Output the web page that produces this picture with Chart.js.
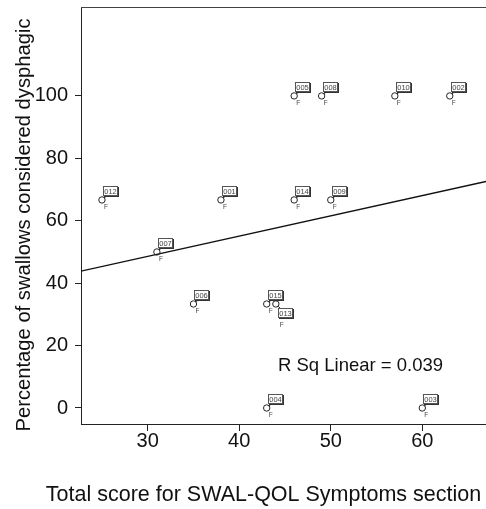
<!DOCTYPE html>
<html>
<head>
<meta charset="utf-8">
<title>Dysphagic swallows vs SWAL-QOL symptoms</title>
<script src="https://cdn.jsdelivr.net/npm/chart.js@4.4.1/dist/chart.umd.min.js"></script>
<style>
  html, body { margin: 0; padding: 0; background: #fff; }
  #wrap { width: 486px; height: 509px; }
</style>
</head>
<body>
<div id="wrap"><canvas id="scatter" width="486" height="509"></canvas></div>
<script>
// one entry per patient
const patientIds    = ['012', '001', '007', '006', '015', '013', '004', '003', '005', '008', '010', '002', '014', '009'];
const symptomScores = [25, 38, 31, 35, 43, 44, 43, 60, 46, 49, 57, 63, 46, 50];
const dysphagicPct  = [66.67, 66.67, 50, 33.33, 33.33, 33.33, 0, 0, 100, 100, 100, 100, 66.67, 66.67];
const sexCodes      = ['F', 'F', 'F', 'F', 'F', 'F', 'F', 'F', 'F', 'F', 'F', 'F', 'F', 'F'];

const xTickValues = [30, 40, 50, 60];
const yTickValues = [0, 20, 40, 60, 80, 100];

// ids whose tag sits under the marker instead of above it
const tagBelow = ['013'];

const xRange = [22.71, 66.96];
const yRange = [-5.13, 128.5];

const FONT = '"Liberation Sans", Arial, Helvetica, sans-serif';

// ordinary least squares on the two columns
function linearFit(xs, ys) {
  const n = xs.length;
  const mx = xs.reduce((a, b) => a + b, 0) / n;
  const my = ys.reduce((a, b) => a + b, 0) / n;
  let sxy = 0, sxx = 0, syy = 0;
  for (let i = 0; i < n; i++) {
    sxy += (xs[i] - mx) * (ys[i] - my);
    sxx += (xs[i] - mx) ** 2;
    syy += (ys[i] - my) ** 2;
  }
  const slope = sxy / sxx;
  return { slope, intercept: my - slope * mx, r2: (sxy * sxy) / (sxx * syy) };
}

const fit = linearFit(symptomScores, dysphagicPct);
const points = symptomScores.map((x, i) => ({ x, y: dysphagicPct[i] }));
const fitLine = xRange.map(x => ({ x, y: fit.intercept + fit.slope * x }));

// the frame is laid out by hand, so drop the label overflow padding
function noOverflow(scale) {
  scale.paddingTop = 0;
  scale.paddingBottom = 0;
  scale.paddingLeft = 0;
  scale.paddingRight = 0;
}

/** Frame, point tags, R squared note and axis titles */
const decorations = {
  id: 'decorations',
  afterDatasetsDraw(chart) {
    const ctx = chart.ctx;
    const area = chart.chartArea;
    ctx.save();

    // top edge of the plot frame
    ctx.strokeStyle = '#444';
    ctx.lineWidth = 1;
    ctx.beginPath();
    ctx.moveTo(area.left, area.top + 0.5);
    ctx.lineTo(area.right, area.top + 0.5);
    ctx.stroke();

    const meta = chart.getDatasetMeta(0);
    meta.data.forEach((pt, i) => {
      const below = tagBelow.includes(patientIds[i]);
      const w = 15, h = 10;
      const bx = Math.round(below ? pt.x + 2 : pt.x + 1);
      const by = Math.round(below ? pt.y + 4 : pt.y - 14);

      // little leader from the marker to the tag
      ctx.strokeStyle = '#333';
      ctx.lineWidth = 1;
      ctx.beginPath();
      if (below) {
        ctx.moveTo(pt.x + 2, pt.y + 2);
        ctx.lineTo(bx + 2, by);
      } else {
        ctx.moveTo(pt.x + 2, pt.y - 2);
        ctx.lineTo(pt.x + 5, pt.y - 4);
      }
      ctx.stroke();

      // tag box with a thin drop shadow
      ctx.fillStyle = '#333';
      ctx.fillRect(bx + 1, by + 1, w, h);
      ctx.fillStyle = '#fff';
      ctx.fillRect(bx, by, w, h);
      ctx.strokeStyle = '#555';
      ctx.strokeRect(bx + 0.5, by + 0.5, w - 1, h - 1);

      ctx.fillStyle = '#444';
      ctx.font = '7.5px ' + FONT;
      ctx.textAlign = 'center';
      ctx.textBaseline = 'middle';
      ctx.fillText(patientIds[i], bx + w / 2, by + h / 2 + 0.5);

      ctx.font = '6.5px ' + FONT;
      ctx.fillText(sexCodes[i], below ? pt.x + 6 : pt.x + 4, below ? pt.y + 21 : pt.y + 7);
    });

    // goodness of fit
    ctx.fillStyle = '#111';
    ctx.font = '18.5px ' + FONT;
    ctx.textAlign = 'left';
    ctx.textBaseline = 'alphabetic';
    ctx.fillText('R Sq Linear = ' + fit.r2.toFixed(3), 278, 371);

    // axis titles
    ctx.font = '21.5px ' + FONT;
    ctx.textAlign = 'center';
    ctx.fillText('Total score for SWAL-QOL Symptoms section', 263.5, 501);

    ctx.translate(30, 225);
    ctx.rotate(-Math.PI / 2);
    ctx.font = '20.2px ' + FONT;
    ctx.fillText('Percentage of swallows considered dysphagic', 0, 0);
    ctx.restore();
  }
};

const ctx = document.getElementById('scatter').getContext('2d');

new Chart(ctx, {
  type: 'scatter',
  data: {
    datasets: [
      {
        data: points,
        pointStyle: 'circle',
        pointRadius: 3.2,
        pointHoverRadius: 3.2,
        borderColor: '#222',
        backgroundColor: 'rgba(0,0,0,0)',
        borderWidth: 1
      },
      {
        type: 'line',
        data: fitLine,
        borderColor: '#111',
        borderWidth: 1.3,
        pointRadius: 0,
        fill: false,
        tension: 0
      }
    ]
  },
  options: {
    responsive: false,
    animation: false,
    events: [],
    // no automatic padding: the plot frame runs off the right edge
    layout: { autoPadding: false, padding: { top: 7, left: 0, right: 0, bottom: 0 } },
    plugins: {
      legend: { display: false },
      tooltip: { enabled: false }
    },
    scales: {
      x: {
        type: 'linear',
        min: xRange[0],
        max: xRange[1],
        afterBuildTicks: axis => { axis.ticks = xTickValues.map(value => ({ value })); },
        afterFit: scale => { scale.height = 85; noOverflow(scale); },
        grid: { display: true, drawOnChartArea: false, drawTicks: true, tickLength: 7, color: '#222' },
        border: { display: true, color: '#222', width: 1 },
        ticks: {
          color: '#111',
          font: { family: FONT, size: 20, lineHeight: 1 },
          padding: 0,
          maxRotation: 0,
          autoSkip: false
        }
      },
      y: {
        type: 'linear',
        min: yRange[0],
        max: yRange[1],
        afterBuildTicks: axis => { axis.ticks = yTickValues.map(value => ({ value })); },
        afterFit: scale => { scale.width = 81; noOverflow(scale); },
        grid: { display: true, drawOnChartArea: false, drawTicks: true, tickLength: 6, color: '#222' },
        border: { display: true, color: '#222', width: 1 },
        ticks: {
          color: '#111',
          font: { family: FONT, size: 20, lineHeight: 1 },
          padding: 7,
          autoSkip: false
        }
      }
    }
  },
  plugins: [decorations]
});
</script>
</body>
</html>
